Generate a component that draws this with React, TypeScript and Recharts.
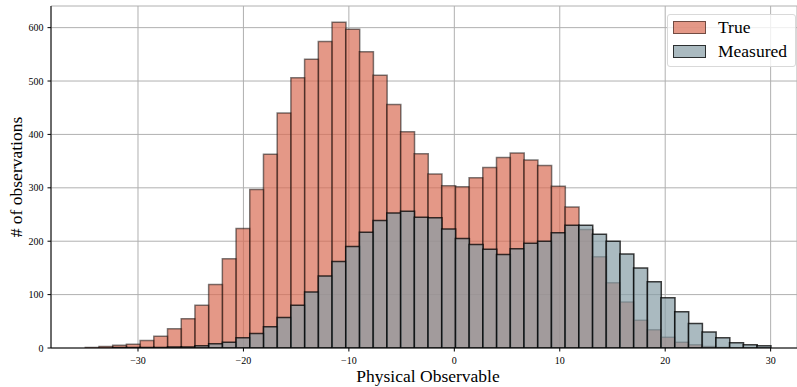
import React from 'react';
import { ComposedChart, Bar, XAxis, YAxis, CartesianGrid, Legend } from 'recharts';

// Histogram binning: 50 bins of width 1.3 starting at -35
const BIN_START = -35;
const BIN_WIDTH = 1.3;

// Counts per bin
const trueCounts = [
  1, 3, 5, 7, 14, 22, 36, 55, 80, 119,
  167, 224, 297, 363, 440, 506, 541, 574, 610, 597,
  555, 511, 456, 405, 364, 326, 304, 302, 319, 338,
  357, 365, 352, 342, 303, 264, 222, 171, 122, 86,
  52, 34, 20, 11, 6, 3, 1, 0, 0, 0,
];

const measuredCounts = [
  0, 0, 1, 1, 1, 1, 2, 2, 4, 8,
  11, 19, 27, 40, 57, 80, 105, 135, 162, 190,
  217, 239, 253, 256, 245, 244, 223, 205, 194, 185,
  175, 186, 196, 200, 216, 230, 230, 213, 200, 176,
  150, 124, 94, 68, 46, 30, 19, 10, 6, 4,
];

const xTicks = [-30, -20, -10, 0, 10, 20, 30];
const yTicks = [0, 100, 200, 300, 400, 500, 600];

const X_DOMAIN: [number, number] = [-38.25, 32.5];
const Y_DOMAIN: [number, number] = [0, 640.5];

const FONT = '"Liberation Serif", "DejaVu Serif", serif';

const series = [
  { key: 'trueCount', name: 'True', fill: '#d86c54', stroke: '#000', strokeOpacity: 0.5 },
  { key: 'measuredCount', name: 'Measured', fill: '#869ca5', stroke: '#000', strokeOpacity: 0.75 },
];

const data = trueCounts.map((t, i) => ({
  x: BIN_START + BIN_WIDTH * (i + 0.5),
  trueCount: t,
  measuredCount: measuredCounts[i],
}));

const fmt = (v: number) => (v < 0 ? `\u2212${Math.abs(v)}` : `${v}`);

const hexToRgba = (hex: string, a: number) => {
  const n = parseInt(hex.slice(1), 16);
  return `rgba(${(n >> 16) & 255},${(n >> 8) & 255},${n & 255},${a})`;
};

const renderLegend = () => (
  <div
    style={{
      position: 'relative',
      width: 129,
      height: 53,
      boxSizing: 'border-box',
      border: '1px solid #d9d9d9',
      borderRadius: 3,
      background: 'rgba(255,255,255,0.8)',
      fontFamily: FONT,
      fontSize: 17.5,
      color: '#000',
    }}
  >
    {series.map((s, i) => (
      <div key={s.key}>
        <div
          style={{
            position: 'absolute',
            left: 5,
            top: 6 + i * 24.3,
            width: 33,
            height: 12.5,
            boxSizing: 'border-box',
            background: hexToRgba(s.fill, 0.7),
            border: `1.5px solid rgba(0,0,0,${s.strokeOpacity})`,
          }}
        />
        <div
          style={{
            position: 'absolute',
            left: 50,
            top: 1 + i * 24.3,
            lineHeight: '22px',
            whiteSpace: 'nowrap',
          }}
        >
          {s.name}
        </div>
      </div>
    ))}
  </div>
);

const YLabel = (props: any) => {
  const { viewBox } = props;
  const cx = viewBox.x + 22;
  const cy = viewBox.y + viewBox.height / 2;
  return (
    <text
      x={cx}
      y={cy}
      transform={`rotate(-90 ${cx} ${cy})`}
      textAnchor="middle"
      fontFamily={FONT}
      fontSize={17.5}
      fill="#000"
    >
      # of observations
    </text>
  );
};

export default function App() {
  return (
    <div style={{ position: 'absolute', left: 0, top: 0, background: '#fff' }}>
      <ComposedChart
        width={797}
        height={387}
        data={data}
        margin={{ top: 6, right: 0, bottom: 0, left: 0 }}
        barCategoryGap={0}
        barGap={0}
      >
        <CartesianGrid stroke="#b0b0b0" strokeWidth={1} />
        <XAxis
          xAxisId={0}
          dataKey="x"
          type="number"
          domain={X_DOMAIN}
          allowDataOverflow
          ticks={xTicks}
          tickFormatter={fmt}
          interval={0}
          height={39}
          tickSize={3.5}
          tickMargin={5}
          stroke="#000"
          tick={{ fill: '#000', fontFamily: FONT, fontSize: 10 }}
          label={{
            value: 'Physical Observable',
            position: 'insideBottom',
            offset: 5.5,
            dx: 4,
            fill: '#000',
            fontFamily: FONT,
            fontSize: 17.5,
          }}
        />
        <XAxis
          xAxisId="m"
          dataKey="x"
          type="number"
          orientation="top"
          domain={X_DOMAIN}
          allowDataOverflow
          height={0}
          tick={false}
          tickLine={false}
          stroke="#000"
        />
        <YAxis
          type="number"
          domain={Y_DOMAIN}
          allowDataOverflow
          ticks={yTicks}
          interval={0}
          width={51}
          tickSize={3.5}
          tickMargin={4}
          stroke="#000"
          tick={{ fill: '#000', fontFamily: FONT, fontSize: 10 }}
          label={<YLabel />}
        />
        <Legend
          layout="horizontal"
          align="center"
          verticalAlign="middle"
          content={renderLegend}
          wrapperStyle={{ left: 667, top: 14, width: 129, height: 53 }}
        />
        <Bar
          xAxisId={0}
          dataKey={series[0].key}
          name={series[0].name}
          fill={series[0].fill}
          fillOpacity={0.7}
          stroke={series[0].stroke}
          strokeOpacity={series[0].strokeOpacity}
          strokeWidth={1.5}
          isAnimationActive={false}
        />
        <Bar
          xAxisId="m"
          dataKey={series[1].key}
          name={series[1].name}
          fill={series[1].fill}
          fillOpacity={0.7}
          stroke={series[1].stroke}
          strokeOpacity={series[1].strokeOpacity}
          strokeWidth={1.5}
          isAnimationActive={false}
        />
      </ComposedChart>
    </div>
  );
}
